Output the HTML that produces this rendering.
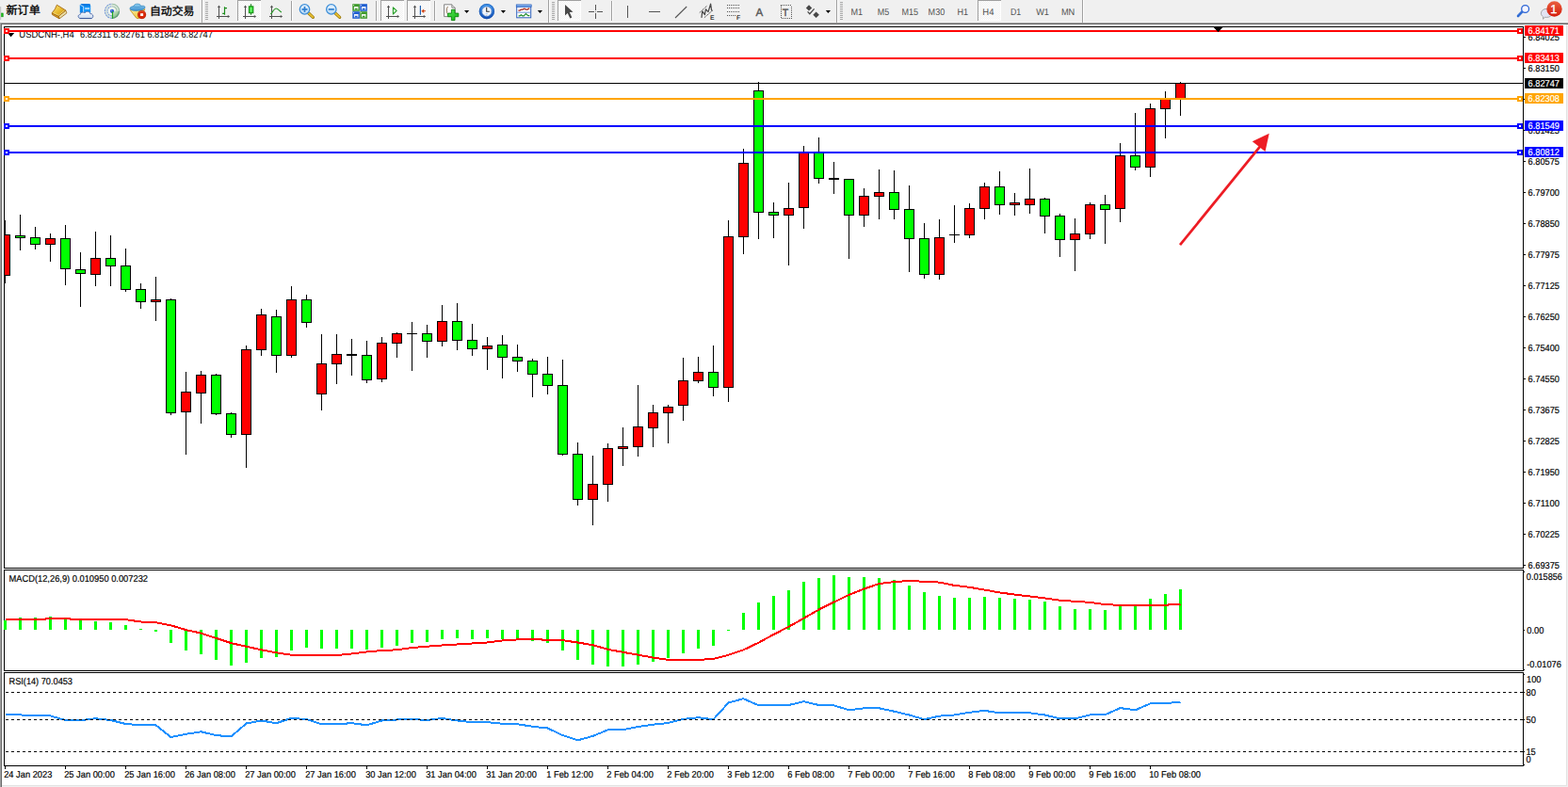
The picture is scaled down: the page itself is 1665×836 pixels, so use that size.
<!DOCTYPE html>
<html><head><meta charset="utf-8"><title>USDCNH H4</title>
<style>html,body{margin:0;padding:0;background:#f0f0f0;overflow:hidden}body{width:1665px;height:836px;position:relative;font-family:"Liberation Sans",sans-serif}</style>
</head><body>
<svg width="1665" height="836" viewBox="0 0 1665 836" style="position:absolute;left:0;top:0;text-rendering:geometricPrecision">
<rect x="0" y="0" width="1665" height="836" fill="#f0f0f0"/>
<g shape-rendering="crispEdges">
<rect x="0" y="23" width="1665" height="1" fill="#f5f5f5"/>
<rect x="0" y="24" width="1665" height="1" fill="#a0a0a0"/>
<rect x="0" y="25" width="1665" height="1" fill="#696969"/>
<rect x="0" y="25" width="1" height="811" fill="#a0a0a0"/>
<rect x="1" y="25" width="1" height="811" fill="#696969"/>
<rect x="2" y="26" width="1661" height="808" fill="#ffffff"/>
<rect x="2" y="834" width="1662" height="1" fill="#e3e3e3"/>
<rect x="1663" y="26" width="1" height="809" fill="#e3e3e3"/>
<rect x="4" y="28" width="1" height="576" fill="#000"/>
<rect x="1617" y="28" width="1" height="576" fill="#000"/>
<rect x="4" y="605" width="1" height="108" fill="#000"/>
<rect x="1617" y="605" width="1" height="108" fill="#000"/>
<rect x="4" y="714" width="1" height="100" fill="#000"/>
<rect x="1617" y="714" width="1" height="100" fill="#000"/>
<rect x="4" y="28" width="1614" height="1" fill="#000"/>
<rect x="4" y="603" width="1614" height="1" fill="#000"/>
<rect x="4" y="605" width="1614" height="1" fill="#000"/>
<rect x="4" y="712" width="1614" height="1" fill="#000"/>
<rect x="4" y="714" width="1614" height="1" fill="#000"/>
<rect x="4" y="813" width="1614" height="1" fill="#000"/>
</g>
<g shape-rendering="crispEdges">
<clipPath id="cm"><rect x="5" y="29" width="1612" height="574"/></clipPath>
<g clip-path="url(#cm)">
<rect x="5" y="234" width="1" height="67" fill="#000"/>
<rect x="0" y="249" width="11" height="44" fill="#000"/>
<rect x="1" y="250" width="9" height="42" fill="#ff0000"/>
<rect x="21" y="228" width="1" height="38" fill="#000"/>
<rect x="16" y="250" width="11" height="3" fill="#000"/>
<rect x="17" y="251" width="9" height="1" fill="#00ff00"/>
<rect x="37" y="241" width="1" height="24" fill="#000"/>
<rect x="32" y="252" width="11" height="8" fill="#000"/>
<rect x="33" y="253" width="9" height="6" fill="#00ff00"/>
<rect x="53" y="248" width="1" height="30" fill="#000"/>
<rect x="48" y="253" width="11" height="7" fill="#000"/>
<rect x="49" y="254" width="9" height="5" fill="#ff0000"/>
<rect x="69" y="239" width="1" height="64" fill="#000"/>
<rect x="64" y="253" width="11" height="33" fill="#000"/>
<rect x="65" y="254" width="9" height="31" fill="#00ff00"/>
<rect x="85" y="268" width="1" height="58" fill="#000"/>
<rect x="80" y="286" width="11" height="5" fill="#000"/>
<rect x="81" y="287" width="9" height="3" fill="#00ff00"/>
<rect x="101" y="246" width="1" height="58" fill="#000"/>
<rect x="96" y="274" width="11" height="18" fill="#000"/>
<rect x="97" y="275" width="9" height="16" fill="#ff0000"/>
<rect x="117" y="250" width="1" height="54" fill="#000"/>
<rect x="112" y="274" width="11" height="9" fill="#000"/>
<rect x="113" y="275" width="9" height="7" fill="#00ff00"/>
<rect x="133" y="264" width="1" height="46" fill="#000"/>
<rect x="128" y="282" width="11" height="26" fill="#000"/>
<rect x="129" y="283" width="9" height="24" fill="#00ff00"/>
<rect x="149" y="301" width="1" height="27" fill="#000"/>
<rect x="144" y="307" width="11" height="14" fill="#000"/>
<rect x="145" y="308" width="9" height="12" fill="#00ff00"/>
<rect x="165" y="294" width="1" height="47" fill="#000"/>
<rect x="160" y="318" width="11" height="3" fill="#000"/>
<rect x="161" y="319" width="9" height="1" fill="#ff0000"/>
<rect x="181" y="317" width="1" height="124" fill="#000"/>
<rect x="176" y="318" width="11" height="121" fill="#000"/>
<rect x="177" y="319" width="9" height="119" fill="#00ff00"/>
<rect x="197" y="395" width="1" height="88" fill="#000"/>
<rect x="192" y="416" width="11" height="22" fill="#000"/>
<rect x="193" y="417" width="9" height="20" fill="#ff0000"/>
<rect x="213" y="394" width="1" height="56" fill="#000"/>
<rect x="208" y="398" width="11" height="20" fill="#000"/>
<rect x="209" y="399" width="9" height="18" fill="#ff0000"/>
<rect x="229" y="397" width="1" height="44" fill="#000"/>
<rect x="224" y="398" width="11" height="42" fill="#000"/>
<rect x="225" y="399" width="9" height="40" fill="#00ff00"/>
<rect x="245" y="438" width="1" height="27" fill="#000"/>
<rect x="240" y="439" width="11" height="23" fill="#000"/>
<rect x="241" y="440" width="9" height="21" fill="#00ff00"/>
<rect x="261" y="367" width="1" height="130" fill="#000"/>
<rect x="256" y="371" width="11" height="91" fill="#000"/>
<rect x="257" y="372" width="9" height="89" fill="#ff0000"/>
<rect x="277" y="328" width="1" height="50" fill="#000"/>
<rect x="272" y="334" width="11" height="38" fill="#000"/>
<rect x="273" y="335" width="9" height="36" fill="#ff0000"/>
<rect x="293" y="329" width="1" height="67" fill="#000"/>
<rect x="288" y="336" width="11" height="42" fill="#000"/>
<rect x="289" y="337" width="9" height="40" fill="#00ff00"/>
<rect x="309" y="304" width="1" height="76" fill="#000"/>
<rect x="304" y="318" width="11" height="60" fill="#000"/>
<rect x="305" y="319" width="9" height="58" fill="#ff0000"/>
<rect x="325" y="313" width="1" height="35" fill="#000"/>
<rect x="320" y="318" width="11" height="25" fill="#000"/>
<rect x="321" y="319" width="9" height="23" fill="#00ff00"/>
<rect x="341" y="355" width="1" height="81" fill="#000"/>
<rect x="336" y="386" width="11" height="33" fill="#000"/>
<rect x="337" y="387" width="9" height="31" fill="#ff0000"/>
<rect x="357" y="355" width="1" height="53" fill="#000"/>
<rect x="352" y="376" width="11" height="11" fill="#000"/>
<rect x="353" y="377" width="9" height="9" fill="#ff0000"/>
<rect x="373" y="360" width="1" height="39" fill="#000"/>
<rect x="368" y="376" width="11" height="2" fill="#000"/>
<rect x="389" y="362" width="1" height="45" fill="#000"/>
<rect x="384" y="377" width="11" height="27" fill="#000"/>
<rect x="385" y="378" width="9" height="25" fill="#00ff00"/>
<rect x="405" y="358" width="1" height="48" fill="#000"/>
<rect x="400" y="364" width="11" height="39" fill="#000"/>
<rect x="401" y="365" width="9" height="37" fill="#ff0000"/>
<rect x="421" y="353" width="1" height="27" fill="#000"/>
<rect x="416" y="354" width="11" height="11" fill="#000"/>
<rect x="417" y="355" width="9" height="9" fill="#ff0000"/>
<rect x="437" y="342" width="1" height="52" fill="#000"/>
<rect x="432" y="354" width="11" height="1" fill="#000"/>
<rect x="453" y="345" width="1" height="35" fill="#000"/>
<rect x="448" y="354" width="11" height="9" fill="#000"/>
<rect x="449" y="355" width="9" height="7" fill="#00ff00"/>
<rect x="469" y="324" width="1" height="44" fill="#000"/>
<rect x="464" y="341" width="11" height="22" fill="#000"/>
<rect x="465" y="342" width="9" height="20" fill="#ff0000"/>
<rect x="485" y="322" width="1" height="50" fill="#000"/>
<rect x="480" y="341" width="11" height="21" fill="#000"/>
<rect x="481" y="342" width="9" height="19" fill="#00ff00"/>
<rect x="501" y="344" width="1" height="34" fill="#000"/>
<rect x="496" y="361" width="11" height="10" fill="#000"/>
<rect x="497" y="362" width="9" height="8" fill="#00ff00"/>
<rect x="517" y="358" width="1" height="35" fill="#000"/>
<rect x="512" y="367" width="11" height="4" fill="#000"/>
<rect x="513" y="368" width="9" height="2" fill="#ff0000"/>
<rect x="533" y="356" width="1" height="46" fill="#000"/>
<rect x="528" y="366" width="11" height="14" fill="#000"/>
<rect x="529" y="367" width="9" height="12" fill="#00ff00"/>
<rect x="549" y="366" width="1" height="29" fill="#000"/>
<rect x="544" y="379" width="11" height="5" fill="#000"/>
<rect x="545" y="380" width="9" height="3" fill="#00ff00"/>
<rect x="565" y="381" width="1" height="41" fill="#000"/>
<rect x="560" y="383" width="11" height="15" fill="#000"/>
<rect x="561" y="384" width="9" height="13" fill="#00ff00"/>
<rect x="581" y="379" width="1" height="40" fill="#000"/>
<rect x="576" y="397" width="11" height="13" fill="#000"/>
<rect x="577" y="398" width="9" height="11" fill="#00ff00"/>
<rect x="597" y="382" width="1" height="102" fill="#000"/>
<rect x="592" y="409" width="11" height="74" fill="#000"/>
<rect x="593" y="410" width="9" height="72" fill="#00ff00"/>
<rect x="613" y="470" width="1" height="67" fill="#000"/>
<rect x="608" y="482" width="11" height="49" fill="#000"/>
<rect x="609" y="483" width="9" height="47" fill="#00ff00"/>
<rect x="629" y="484" width="1" height="74" fill="#000"/>
<rect x="624" y="514" width="11" height="17" fill="#000"/>
<rect x="625" y="515" width="9" height="15" fill="#ff0000"/>
<rect x="645" y="471" width="1" height="62" fill="#000"/>
<rect x="640" y="476" width="11" height="39" fill="#000"/>
<rect x="641" y="477" width="9" height="37" fill="#ff0000"/>
<rect x="661" y="454" width="1" height="41" fill="#000"/>
<rect x="656" y="474" width="11" height="3" fill="#000"/>
<rect x="657" y="475" width="9" height="1" fill="#ff0000"/>
<rect x="677" y="409" width="1" height="76" fill="#000"/>
<rect x="672" y="453" width="11" height="22" fill="#000"/>
<rect x="673" y="454" width="9" height="20" fill="#ff0000"/>
<rect x="693" y="430" width="1" height="45" fill="#000"/>
<rect x="688" y="438" width="11" height="17" fill="#000"/>
<rect x="689" y="439" width="9" height="15" fill="#ff0000"/>
<rect x="709" y="430" width="1" height="41" fill="#000"/>
<rect x="704" y="432" width="11" height="7" fill="#000"/>
<rect x="705" y="433" width="9" height="5" fill="#ff0000"/>
<rect x="725" y="380" width="1" height="67" fill="#000"/>
<rect x="720" y="404" width="11" height="27" fill="#000"/>
<rect x="721" y="405" width="9" height="25" fill="#ff0000"/>
<rect x="741" y="379" width="1" height="28" fill="#000"/>
<rect x="736" y="395" width="11" height="10" fill="#000"/>
<rect x="737" y="396" width="9" height="8" fill="#ff0000"/>
<rect x="757" y="367" width="1" height="54" fill="#000"/>
<rect x="752" y="395" width="11" height="17" fill="#000"/>
<rect x="753" y="396" width="9" height="15" fill="#00ff00"/>
<rect x="773" y="234" width="1" height="193" fill="#000"/>
<rect x="768" y="251" width="11" height="161" fill="#000"/>
<rect x="769" y="252" width="9" height="159" fill="#ff0000"/>
<rect x="789" y="158" width="1" height="112" fill="#000"/>
<rect x="784" y="173" width="11" height="79" fill="#000"/>
<rect x="785" y="174" width="9" height="77" fill="#ff0000"/>
<rect x="805" y="87" width="1" height="167" fill="#000"/>
<rect x="800" y="96" width="11" height="130" fill="#000"/>
<rect x="801" y="97" width="9" height="128" fill="#00ff00"/>
<rect x="821" y="215" width="1" height="38" fill="#000"/>
<rect x="816" y="225" width="11" height="4" fill="#000"/>
<rect x="817" y="226" width="9" height="2" fill="#00ff00"/>
<rect x="837" y="194" width="1" height="88" fill="#000"/>
<rect x="832" y="221" width="11" height="8" fill="#000"/>
<rect x="833" y="222" width="9" height="6" fill="#ff0000"/>
<rect x="853" y="155" width="1" height="88" fill="#000"/>
<rect x="848" y="162" width="11" height="59" fill="#000"/>
<rect x="849" y="163" width="9" height="57" fill="#ff0000"/>
<rect x="869" y="146" width="1" height="49" fill="#000"/>
<rect x="864" y="162" width="11" height="28" fill="#000"/>
<rect x="865" y="163" width="9" height="26" fill="#00ff00"/>
<rect x="885" y="172" width="1" height="34" fill="#000"/>
<rect x="880" y="189" width="11" height="2" fill="#000"/>
<rect x="901" y="190" width="1" height="85" fill="#000"/>
<rect x="896" y="190" width="11" height="39" fill="#000"/>
<rect x="897" y="191" width="9" height="37" fill="#00ff00"/>
<rect x="917" y="200" width="1" height="41" fill="#000"/>
<rect x="912" y="208" width="11" height="21" fill="#000"/>
<rect x="913" y="209" width="9" height="19" fill="#ff0000"/>
<rect x="933" y="180" width="1" height="53" fill="#000"/>
<rect x="928" y="204" width="11" height="5" fill="#000"/>
<rect x="929" y="205" width="9" height="3" fill="#ff0000"/>
<rect x="949" y="181" width="1" height="52" fill="#000"/>
<rect x="944" y="204" width="11" height="19" fill="#000"/>
<rect x="945" y="205" width="9" height="17" fill="#00ff00"/>
<rect x="965" y="197" width="1" height="92" fill="#000"/>
<rect x="960" y="222" width="11" height="32" fill="#000"/>
<rect x="961" y="223" width="9" height="30" fill="#00ff00"/>
<rect x="981" y="237" width="1" height="59" fill="#000"/>
<rect x="976" y="253" width="11" height="39" fill="#000"/>
<rect x="977" y="254" width="9" height="37" fill="#00ff00"/>
<rect x="997" y="233" width="1" height="64" fill="#000"/>
<rect x="992" y="252" width="11" height="40" fill="#000"/>
<rect x="993" y="253" width="9" height="38" fill="#ff0000"/>
<rect x="1013" y="218" width="1" height="40" fill="#000"/>
<rect x="1008" y="249" width="11" height="1" fill="#000"/>
<rect x="1029" y="216" width="1" height="37" fill="#000"/>
<rect x="1024" y="221" width="11" height="29" fill="#000"/>
<rect x="1025" y="222" width="9" height="27" fill="#ff0000"/>
<rect x="1045" y="194" width="1" height="39" fill="#000"/>
<rect x="1040" y="198" width="11" height="24" fill="#000"/>
<rect x="1041" y="199" width="9" height="22" fill="#ff0000"/>
<rect x="1061" y="182" width="1" height="46" fill="#000"/>
<rect x="1056" y="198" width="11" height="20" fill="#000"/>
<rect x="1057" y="199" width="9" height="18" fill="#00ff00"/>
<rect x="1077" y="205" width="1" height="24" fill="#000"/>
<rect x="1072" y="215" width="11" height="3" fill="#000"/>
<rect x="1073" y="216" width="9" height="1" fill="#ff0000"/>
<rect x="1093" y="179" width="1" height="48" fill="#000"/>
<rect x="1088" y="211" width="11" height="7" fill="#000"/>
<rect x="1089" y="212" width="9" height="5" fill="#ff0000"/>
<rect x="1109" y="210" width="1" height="38" fill="#000"/>
<rect x="1104" y="211" width="11" height="19" fill="#000"/>
<rect x="1105" y="212" width="9" height="17" fill="#00ff00"/>
<rect x="1125" y="227" width="1" height="46" fill="#000"/>
<rect x="1120" y="229" width="11" height="26" fill="#000"/>
<rect x="1121" y="230" width="9" height="24" fill="#00ff00"/>
<rect x="1141" y="232" width="1" height="56" fill="#000"/>
<rect x="1136" y="248" width="11" height="7" fill="#000"/>
<rect x="1137" y="249" width="9" height="5" fill="#ff0000"/>
<rect x="1157" y="215" width="1" height="39" fill="#000"/>
<rect x="1152" y="217" width="11" height="32" fill="#000"/>
<rect x="1153" y="218" width="9" height="30" fill="#ff0000"/>
<rect x="1173" y="207" width="1" height="52" fill="#000"/>
<rect x="1168" y="217" width="11" height="6" fill="#000"/>
<rect x="1169" y="218" width="9" height="4" fill="#00ff00"/>
<rect x="1189" y="152" width="1" height="84" fill="#000"/>
<rect x="1184" y="165" width="11" height="57" fill="#000"/>
<rect x="1185" y="166" width="9" height="55" fill="#ff0000"/>
<rect x="1205" y="120" width="1" height="61" fill="#000"/>
<rect x="1200" y="165" width="11" height="13" fill="#000"/>
<rect x="1201" y="166" width="9" height="11" fill="#00ff00"/>
<rect x="1221" y="110" width="1" height="78" fill="#000"/>
<rect x="1216" y="115" width="11" height="63" fill="#000"/>
<rect x="1217" y="116" width="9" height="61" fill="#ff0000"/>
<rect x="1237" y="97" width="1" height="50" fill="#000"/>
<rect x="1232" y="105" width="11" height="11" fill="#000"/>
<rect x="1233" y="106" width="9" height="9" fill="#ff0000"/>
<rect x="1253" y="87" width="1" height="36" fill="#000"/>
<rect x="1248" y="88" width="11" height="17" fill="#000"/>
<rect x="1249" y="89" width="9" height="15" fill="#ff0000"/>
</g>
</g>
<path d="M8,35 L15.2,35 L11.6,39.2 Z" fill="#000"/>
<text x="20.3" y="40" font-family="Liberation Sans, sans-serif" font-size="10" fill="#000" textLength="58.4" lengthAdjust="spacingAndGlyphs">USDCNH-,H4</text>
<text x="85.0" y="40" font-family="Liberation Sans, sans-serif" font-size="10" fill="#000" textLength="140.9" lengthAdjust="spacingAndGlyphs">6.82311 6.82761 6.81842 6.82747</text>
<rect x="5" y="32" width="1612" height="2" fill="#ff0000"/>
<rect x="4" y="30" width="6" height="6" fill="#ff0000"/><rect x="6" y="32" width="2" height="2" fill="#fff"/>
<rect x="1611" y="30" width="6" height="6" fill="#ff0000"/><rect x="1613" y="32" width="2" height="2" fill="#fff"/>
<rect x="5" y="61" width="1612" height="2" fill="#ff0000"/>
<rect x="4" y="59" width="6" height="6" fill="#ff0000"/><rect x="6" y="61" width="2" height="2" fill="#fff"/>
<rect x="1611" y="59" width="6" height="6" fill="#ff0000"/><rect x="1613" y="61" width="2" height="2" fill="#fff"/>
<rect x="5" y="88" width="1612" height="1" fill="#000000"/>
<rect x="5" y="104" width="1612" height="2" fill="#ffa500"/>
<rect x="4" y="102" width="6" height="6" fill="#ffa500"/><rect x="6" y="104" width="2" height="2" fill="#fff"/>
<rect x="1611" y="102" width="6" height="6" fill="#ffa500"/><rect x="1613" y="104" width="2" height="2" fill="#fff"/>
<rect x="5" y="133" width="1612" height="2" fill="#0000ff"/>
<rect x="4" y="131" width="6" height="6" fill="#0000ff"/><rect x="6" y="133" width="2" height="2" fill="#fff"/>
<rect x="1611" y="131" width="6" height="6" fill="#0000ff"/><rect x="1613" y="133" width="2" height="2" fill="#fff"/>
<rect x="5" y="161" width="1612" height="2" fill="#0000ff"/>
<rect x="4" y="159" width="6" height="6" fill="#0000ff"/><rect x="6" y="161" width="2" height="2" fill="#fff"/>
<rect x="1611" y="159" width="6" height="6" fill="#0000ff"/><rect x="1613" y="161" width="2" height="2" fill="#fff"/>
</g>
<g fill="#ed1c24" stroke="none"><path d="M1251.95,259.35 L1254.05,261.05 L1339.65,155.65 L1337.55,153.95 Z"/><path d="M1347.7,141.8 L1329.8,150.2 L1343.5,161 Z"/></g>
<g fill="#000" shape-rendering="crispEdges"><rect x="1289" y="29" width="9" height="1"/><rect x="1290" y="30" width="7" height="1"/><rect x="1291" y="31" width="5" height="1"/><rect x="1292" y="32" width="3" height="1"/><rect x="1293" y="33" width="1" height="1"/></g>
<rect x="1618" y="39.0" width="2" height="1" fill="#000" shape-rendering="crispEdges"/>
<text x="1622.6" y="43.0" font-family="Liberation Sans, sans-serif" font-size="10.0" fill="#000" stroke="#000" stroke-width="0.18" textLength="33.4" lengthAdjust="spacingAndGlyphs">6.84025</text>
<rect x="1618" y="72.0" width="2" height="1" fill="#000" shape-rendering="crispEdges"/>
<text x="1622.6" y="76.0" font-family="Liberation Sans, sans-serif" font-size="10.0" fill="#000" stroke="#000" stroke-width="0.18" textLength="33.4" lengthAdjust="spacingAndGlyphs">6.83150</text>
<rect x="1618" y="105.0" width="2" height="1" fill="#000" shape-rendering="crispEdges"/>
<text x="1622.6" y="109.0" font-family="Liberation Sans, sans-serif" font-size="10.0" fill="#000" stroke="#000" stroke-width="0.18" textLength="33.4" lengthAdjust="spacingAndGlyphs">6.82275</text>
<rect x="1618" y="138.0" width="2" height="1" fill="#000" shape-rendering="crispEdges"/>
<text x="1622.6" y="142.0" font-family="Liberation Sans, sans-serif" font-size="10.0" fill="#000" stroke="#000" stroke-width="0.18" textLength="33.4" lengthAdjust="spacingAndGlyphs">6.81425</text>
<rect x="1618" y="171.0" width="2" height="1" fill="#000" shape-rendering="crispEdges"/>
<text x="1622.6" y="175.0" font-family="Liberation Sans, sans-serif" font-size="10.0" fill="#000" stroke="#000" stroke-width="0.18" textLength="33.4" lengthAdjust="spacingAndGlyphs">6.80575</text>
<rect x="1618" y="204.0" width="2" height="1" fill="#000" shape-rendering="crispEdges"/>
<text x="1622.6" y="208.0" font-family="Liberation Sans, sans-serif" font-size="10.0" fill="#000" stroke="#000" stroke-width="0.18" textLength="33.4" lengthAdjust="spacingAndGlyphs">6.79700</text>
<rect x="1618" y="237.0" width="2" height="1" fill="#000" shape-rendering="crispEdges"/>
<text x="1622.6" y="241.0" font-family="Liberation Sans, sans-serif" font-size="10.0" fill="#000" stroke="#000" stroke-width="0.18" textLength="33.4" lengthAdjust="spacingAndGlyphs">6.78850</text>
<rect x="1618" y="270.0" width="2" height="1" fill="#000" shape-rendering="crispEdges"/>
<text x="1622.6" y="274.0" font-family="Liberation Sans, sans-serif" font-size="10.0" fill="#000" stroke="#000" stroke-width="0.18" textLength="33.4" lengthAdjust="spacingAndGlyphs">6.77975</text>
<rect x="1618" y="303.0" width="2" height="1" fill="#000" shape-rendering="crispEdges"/>
<text x="1622.6" y="307.0" font-family="Liberation Sans, sans-serif" font-size="10.0" fill="#000" stroke="#000" stroke-width="0.18" textLength="33.4" lengthAdjust="spacingAndGlyphs">6.77125</text>
<rect x="1618" y="336.0" width="2" height="1" fill="#000" shape-rendering="crispEdges"/>
<text x="1622.6" y="340.0" font-family="Liberation Sans, sans-serif" font-size="10.0" fill="#000" stroke="#000" stroke-width="0.18" textLength="33.4" lengthAdjust="spacingAndGlyphs">6.76250</text>
<rect x="1618" y="369.0" width="2" height="1" fill="#000" shape-rendering="crispEdges"/>
<text x="1622.6" y="373.0" font-family="Liberation Sans, sans-serif" font-size="10.0" fill="#000" stroke="#000" stroke-width="0.18" textLength="33.4" lengthAdjust="spacingAndGlyphs">6.75400</text>
<rect x="1618" y="402.0" width="2" height="1" fill="#000" shape-rendering="crispEdges"/>
<text x="1622.6" y="406.0" font-family="Liberation Sans, sans-serif" font-size="10.0" fill="#000" stroke="#000" stroke-width="0.18" textLength="33.4" lengthAdjust="spacingAndGlyphs">6.74550</text>
<rect x="1618" y="435.0" width="2" height="1" fill="#000" shape-rendering="crispEdges"/>
<text x="1622.6" y="439.0" font-family="Liberation Sans, sans-serif" font-size="10.0" fill="#000" stroke="#000" stroke-width="0.18" textLength="33.4" lengthAdjust="spacingAndGlyphs">6.73675</text>
<rect x="1618" y="468.0" width="2" height="1" fill="#000" shape-rendering="crispEdges"/>
<text x="1622.6" y="472.0" font-family="Liberation Sans, sans-serif" font-size="10.0" fill="#000" stroke="#000" stroke-width="0.18" textLength="33.4" lengthAdjust="spacingAndGlyphs">6.72825</text>
<rect x="1618" y="501.0" width="2" height="1" fill="#000" shape-rendering="crispEdges"/>
<text x="1622.6" y="505.0" font-family="Liberation Sans, sans-serif" font-size="10.0" fill="#000" stroke="#000" stroke-width="0.18" textLength="33.4" lengthAdjust="spacingAndGlyphs">6.71950</text>
<rect x="1618" y="534.0" width="2" height="1" fill="#000" shape-rendering="crispEdges"/>
<text x="1622.6" y="538.0" font-family="Liberation Sans, sans-serif" font-size="10.0" fill="#000" stroke="#000" stroke-width="0.18" textLength="33.4" lengthAdjust="spacingAndGlyphs">6.71100</text>
<rect x="1618" y="567.0" width="2" height="1" fill="#000" shape-rendering="crispEdges"/>
<text x="1622.6" y="571.0" font-family="Liberation Sans, sans-serif" font-size="10.0" fill="#000" stroke="#000" stroke-width="0.18" textLength="33.4" lengthAdjust="spacingAndGlyphs">6.70225</text>
<rect x="1618" y="600.0" width="2" height="1" fill="#000" shape-rendering="crispEdges"/>
<text x="1622.6" y="604.0" font-family="Liberation Sans, sans-serif" font-size="10.0" fill="#000" stroke="#000" stroke-width="0.18" textLength="33.4" lengthAdjust="spacingAndGlyphs">6.69375</text>
<rect x="1619" y="27" width="41" height="11" fill="#ff0000" shape-rendering="crispEdges"/>
<text x="1622.6" y="36" font-family="Liberation Sans, sans-serif" font-size="10.0" fill="#fff" stroke="#fff" stroke-width="0.18" textLength="33.4" lengthAdjust="spacingAndGlyphs">6.84171</text>
<rect x="1619" y="56" width="41" height="11" fill="#ff0000" shape-rendering="crispEdges"/>
<text x="1622.6" y="65" font-family="Liberation Sans, sans-serif" font-size="10.0" fill="#fff" stroke="#fff" stroke-width="0.18" textLength="33.4" lengthAdjust="spacingAndGlyphs">6.83413</text>
<rect x="1619" y="83" width="41" height="11" fill="#000000" shape-rendering="crispEdges"/>
<text x="1622.6" y="92" font-family="Liberation Sans, sans-serif" font-size="10.0" fill="#fff" stroke="#fff" stroke-width="0.18" textLength="33.4" lengthAdjust="spacingAndGlyphs">6.82747</text>
<rect x="1619" y="99" width="41" height="11" fill="#ffa500" shape-rendering="crispEdges"/>
<text x="1622.6" y="108" font-family="Liberation Sans, sans-serif" font-size="10.0" fill="#fff" stroke="#fff" stroke-width="0.18" textLength="33.4" lengthAdjust="spacingAndGlyphs">6.82308</text>
<rect x="1619" y="128" width="41" height="11" fill="#0000ff" shape-rendering="crispEdges"/>
<text x="1622.6" y="137" font-family="Liberation Sans, sans-serif" font-size="10.0" fill="#fff" stroke="#fff" stroke-width="0.18" textLength="33.4" lengthAdjust="spacingAndGlyphs">6.81549</text>
<rect x="1619" y="156" width="41" height="11" fill="#0000ff" shape-rendering="crispEdges"/>
<text x="1622.6" y="165" font-family="Liberation Sans, sans-serif" font-size="10.0" fill="#fff" stroke="#fff" stroke-width="0.18" textLength="33.4" lengthAdjust="spacingAndGlyphs">6.80812</text>
<g shape-rendering="crispEdges">
<rect x="4" y="659" width="3" height="10" fill="#00ff00"/>
<rect x="20" y="656" width="3" height="13" fill="#00ff00"/>
<rect x="36" y="656" width="3" height="13" fill="#00ff00"/>
<rect x="52" y="655" width="3" height="14" fill="#00ff00"/>
<rect x="68" y="657" width="3" height="12" fill="#00ff00"/>
<rect x="84" y="658" width="3" height="11" fill="#00ff00"/>
<rect x="100" y="660" width="3" height="9" fill="#00ff00"/>
<rect x="116" y="661" width="3" height="8" fill="#00ff00"/>
<rect x="132" y="664" width="3" height="5" fill="#00ff00"/>
<rect x="148" y="668" width="3" height="1" fill="#00ff00"/>
<rect x="164" y="669" width="3" height="2" fill="#00ff00"/>
<rect x="180" y="669" width="3" height="14" fill="#00ff00"/>
<rect x="196" y="669" width="3" height="22" fill="#00ff00"/>
<rect x="212" y="669" width="3" height="26" fill="#00ff00"/>
<rect x="228" y="669" width="3" height="32" fill="#00ff00"/>
<rect x="244" y="669" width="3" height="38" fill="#00ff00"/>
<rect x="260" y="669" width="3" height="35" fill="#00ff00"/>
<rect x="276" y="669" width="3" height="30" fill="#00ff00"/>
<rect x="292" y="669" width="3" height="29" fill="#00ff00"/>
<rect x="308" y="669" width="3" height="22" fill="#00ff00"/>
<rect x="324" y="669" width="3" height="19" fill="#00ff00"/>
<rect x="340" y="669" width="3" height="20" fill="#00ff00"/>
<rect x="356" y="669" width="3" height="20" fill="#00ff00"/>
<rect x="372" y="669" width="3" height="20" fill="#00ff00"/>
<rect x="388" y="669" width="3" height="21" fill="#00ff00"/>
<rect x="404" y="669" width="3" height="19" fill="#00ff00"/>
<rect x="420" y="669" width="3" height="17" fill="#00ff00"/>
<rect x="436" y="669" width="3" height="14" fill="#00ff00"/>
<rect x="452" y="669" width="3" height="13" fill="#00ff00"/>
<rect x="468" y="669" width="3" height="10" fill="#00ff00"/>
<rect x="484" y="669" width="3" height="9" fill="#00ff00"/>
<rect x="500" y="669" width="3" height="10" fill="#00ff00"/>
<rect x="516" y="669" width="3" height="9" fill="#00ff00"/>
<rect x="532" y="669" width="3" height="10" fill="#00ff00"/>
<rect x="548" y="669" width="3" height="10" fill="#00ff00"/>
<rect x="564" y="669" width="3" height="12" fill="#00ff00"/>
<rect x="580" y="669" width="3" height="14" fill="#00ff00"/>
<rect x="596" y="669" width="3" height="22" fill="#00ff00"/>
<rect x="612" y="669" width="3" height="32" fill="#00ff00"/>
<rect x="628" y="669" width="3" height="37" fill="#00ff00"/>
<rect x="644" y="669" width="3" height="39" fill="#00ff00"/>
<rect x="660" y="669" width="3" height="39" fill="#00ff00"/>
<rect x="676" y="669" width="3" height="37" fill="#00ff00"/>
<rect x="692" y="669" width="3" height="34" fill="#00ff00"/>
<rect x="708" y="669" width="3" height="30" fill="#00ff00"/>
<rect x="724" y="669" width="3" height="25" fill="#00ff00"/>
<rect x="740" y="669" width="3" height="20" fill="#00ff00"/>
<rect x="756" y="669" width="3" height="17" fill="#00ff00"/>
<rect x="772" y="669" width="3" height="1" fill="#00ff00"/>
<rect x="788" y="651" width="3" height="18" fill="#00ff00"/>
<rect x="804" y="640" width="3" height="29" fill="#00ff00"/>
<rect x="820" y="633" width="3" height="36" fill="#00ff00"/>
<rect x="836" y="627" width="3" height="42" fill="#00ff00"/>
<rect x="852" y="618" width="3" height="51" fill="#00ff00"/>
<rect x="868" y="614" width="3" height="55" fill="#00ff00"/>
<rect x="884" y="611" width="3" height="58" fill="#00ff00"/>
<rect x="900" y="613" width="3" height="56" fill="#00ff00"/>
<rect x="916" y="613" width="3" height="56" fill="#00ff00"/>
<rect x="932" y="614" width="3" height="55" fill="#00ff00"/>
<rect x="948" y="616" width="3" height="53" fill="#00ff00"/>
<rect x="964" y="622" width="3" height="47" fill="#00ff00"/>
<rect x="980" y="629" width="3" height="40" fill="#00ff00"/>
<rect x="996" y="633" width="3" height="36" fill="#00ff00"/>
<rect x="1012" y="635" width="3" height="34" fill="#00ff00"/>
<rect x="1028" y="635" width="3" height="34" fill="#00ff00"/>
<rect x="1044" y="634" width="3" height="35" fill="#00ff00"/>
<rect x="1060" y="635" width="3" height="34" fill="#00ff00"/>
<rect x="1076" y="636" width="3" height="33" fill="#00ff00"/>
<rect x="1092" y="637" width="3" height="32" fill="#00ff00"/>
<rect x="1108" y="639" width="3" height="30" fill="#00ff00"/>
<rect x="1124" y="644" width="3" height="25" fill="#00ff00"/>
<rect x="1140" y="647" width="3" height="22" fill="#00ff00"/>
<rect x="1156" y="647" width="3" height="22" fill="#00ff00"/>
<rect x="1172" y="648" width="3" height="21" fill="#00ff00"/>
<rect x="1188" y="643" width="3" height="26" fill="#00ff00"/>
<rect x="1204" y="643" width="3" height="26" fill="#00ff00"/>
<rect x="1220" y="636" width="3" height="33" fill="#00ff00"/>
<rect x="1236" y="631" width="3" height="38" fill="#00ff00"/>
<rect x="1252" y="626" width="3" height="43" fill="#00ff00"/>
</g>
<clipPath id="c2"><rect x="5" y="606" width="1612" height="106"/></clipPath>
<polyline clip-path="url(#c2)" points="5.5,658.2 21.5,658.2 37.5,658.2 53.5,657.2 69.5,657.2 85.5,658.2 101.5,658.2 117.5,658.2 133.5,658.2 149.5,660.5 165.5,661.2 181.5,664.3 197.5,669.1 213.5,672.6 229.5,677.9 245.5,683.2 261.5,686.7 277.5,690.3 293.5,693.3 309.5,695.8 325.5,696.1 341.5,696.1 357.5,696.1 373.5,694.5 389.5,692.5 405.5,691.0 421.5,690.3 437.5,688.0 453.5,686.7 469.5,685.5 485.5,684.5 501.5,683.5 517.5,682.5 533.5,680.4 549.5,679.4 565.5,679.2 581.5,679.7 597.5,680.2 613.5,682.5 629.5,685.2 645.5,689.8 661.5,692.8 677.5,695.6 693.5,698.6 709.5,700.9 725.5,701.1 741.5,700.9 757.5,699.9 773.5,695.8 789.5,690.3 805.5,682.7 821.5,674.0 837.5,665.8 853.5,656.7 869.5,647.6 885.5,639.6 901.5,631.9 917.5,625.5 933.5,620.1 949.5,618.1 965.5,617.0 981.5,617.8 997.5,618.6 1013.5,621.9 1029.5,623.8 1045.5,626.6 1061.5,629.4 1077.5,631.6 1093.5,633.5 1109.5,635.4 1125.5,637.7 1141.5,638.8 1157.5,639.9 1173.5,642.1 1189.5,642.9 1205.5,643.2 1221.5,643.2 1237.5,642.6 1253.5,642.1" fill="none" stroke="#ff0000" stroke-width="2" stroke-linejoin="round" shape-rendering="crispEdges"/>
<text x="9.5" y="618" font-family="Liberation Sans, sans-serif" font-size="10.0" fill="#000" stroke="#000" stroke-width="0.18" textLength="147.5" lengthAdjust="spacingAndGlyphs">MACD(12,26,9) 0.010950 0.007232</text>
<text x="1620.8" y="616" font-family="Liberation Sans, sans-serif" font-size="10.0" fill="#000" stroke="#000" stroke-width="0.18" textLength="38.1" lengthAdjust="spacingAndGlyphs">0.015856</text>
<text x="1621.3" y="673" font-family="Liberation Sans, sans-serif" font-size="10.0" fill="#000" stroke="#000" stroke-width="0.18" textLength="18.1" lengthAdjust="spacingAndGlyphs">0.00</text>
<text x="1621.2" y="709" font-family="Liberation Sans, sans-serif" font-size="10.0" fill="#000" stroke="#000" stroke-width="0.18" textLength="36.71" lengthAdjust="spacingAndGlyphs">-0.01076</text>
<g shape-rendering="crispEdges" fill="#000"><rect x="1618" y="607" width="1" height="1"/><rect x="1618" y="669" width="1" height="1"/><rect x="1618" y="711" width="1" height="1"/><rect x="1618" y="716" width="1" height="1"/><rect x="1618" y="735" width="1" height="1"/><rect x="1618" y="764" width="1" height="1"/><rect x="1618" y="798" width="1" height="1"/><rect x="1618" y="812" width="1" height="1"/></g>
<clipPath id="c3"><rect x="5" y="715" width="1612" height="98"/></clipPath>
<polyline clip-path="url(#c3)" points="5.5,759.4 21.5,759.4 37.5,760.4 53.5,760.4 69.5,765.0 85.5,765.2 101.5,763.2 117.5,765.0 133.5,769.0 149.5,770.3 165.5,770.3 181.5,783.1 197.5,779.8 213.5,777.3 229.5,781.1 245.5,782.4 261.5,768.5 277.5,765.5 293.5,768.2 309.5,762.9 325.5,764.1 341.5,769.2 357.5,769.2 373.5,768.2 389.5,770.3 405.5,765.5 421.5,764.5 437.5,764.0 453.5,765.0 469.5,762.9 485.5,765.5 501.5,767.2 517.5,767.2 533.5,768.7 549.5,769.2 565.5,771.8 581.5,773.5 597.5,781.1 613.5,786.4 629.5,781.9 645.5,775.3 661.5,775.3 677.5,772.0 693.5,769.7 709.5,768.0 725.5,763.9 741.5,762.2 757.5,764.2 773.5,746.5 789.5,742.2 805.5,749.3 821.5,749.3 837.5,749.0 853.5,745.2 869.5,749.0 885.5,749.3 901.5,754.3 917.5,752.3 933.5,752.3 949.5,755.7 965.5,759.5 981.5,764.2 997.5,760.6 1013.5,759.5 1029.5,756.8 1045.5,754.9 1061.5,757.3 1077.5,757.3 1093.5,757.3 1109.5,759.5 1125.5,763.4 1141.5,763.4 1157.5,759.3 1173.5,759.3 1189.5,752.1 1205.5,754.3 1221.5,747.4 1237.5,746.9 1253.5,745.9" fill="none" stroke="#1e90ff" stroke-width="2" stroke-linejoin="round" shape-rendering="crispEdges"/>
<line x1="6" y1="735.5" x2="1617" y2="735.5" stroke="#000" stroke-width="1" stroke-dasharray="3 3" shape-rendering="crispEdges"/>
<line x1="6" y1="764.5" x2="1617" y2="764.5" stroke="#000" stroke-width="1" stroke-dasharray="3 3" shape-rendering="crispEdges"/>
<line x1="6" y1="798.5" x2="1617" y2="798.5" stroke="#000" stroke-width="1" stroke-dasharray="3 3" shape-rendering="crispEdges"/>
<text x="9.5" y="727" font-family="Liberation Sans, sans-serif" font-size="10.0" fill="#000" stroke="#000" stroke-width="0.18" textLength="67.5" lengthAdjust="spacingAndGlyphs">RSI(14) 70.0453</text>
<text x="1621.0" y="725" font-family="Liberation Sans, sans-serif" font-size="10.0" fill="#000" stroke="#000" stroke-width="0.18" textLength="15.52" lengthAdjust="spacingAndGlyphs">100</text>
<text x="1620.6" y="739" font-family="Liberation Sans, sans-serif" font-size="10.0" fill="#000" stroke="#000" stroke-width="0.18" textLength="10.34" lengthAdjust="spacingAndGlyphs">80</text>
<text x="1620.6" y="768" font-family="Liberation Sans, sans-serif" font-size="10.0" fill="#000" stroke="#000" stroke-width="0.18" textLength="10.34" lengthAdjust="spacingAndGlyphs">50</text>
<text x="1620.4" y="802" font-family="Liberation Sans, sans-serif" font-size="10.0" fill="#000" stroke="#000" stroke-width="0.18" textLength="10.34" lengthAdjust="spacingAndGlyphs">15</text>
<text x="1620.6" y="810" font-family="Liberation Sans, sans-serif" font-size="10.0" fill="#000" stroke="#000" stroke-width="0.18" textLength="5.17" lengthAdjust="spacingAndGlyphs">0</text>
<rect x="5" y="814" width="1" height="3" fill="#000" shape-rendering="crispEdges"/>
<text x="4.2" y="826" font-family="Liberation Sans, sans-serif" font-size="10.0" fill="#000" stroke="#000" stroke-width="0.18" textLength="51.2" lengthAdjust="spacingAndGlyphs">24 Jan 2023</text>
<rect x="69" y="814" width="1" height="3" fill="#000" shape-rendering="crispEdges"/>
<text x="68.2" y="826" font-family="Liberation Sans, sans-serif" font-size="10.0" fill="#000" stroke="#000" stroke-width="0.18" textLength="53.78" lengthAdjust="spacingAndGlyphs">25 Jan 00:00</text>
<rect x="133" y="814" width="1" height="3" fill="#000" shape-rendering="crispEdges"/>
<text x="132.2" y="826" font-family="Liberation Sans, sans-serif" font-size="10.0" fill="#000" stroke="#000" stroke-width="0.18" textLength="53.78" lengthAdjust="spacingAndGlyphs">25 Jan 16:00</text>
<rect x="197" y="814" width="1" height="3" fill="#000" shape-rendering="crispEdges"/>
<text x="196.2" y="826" font-family="Liberation Sans, sans-serif" font-size="10.0" fill="#000" stroke="#000" stroke-width="0.18" textLength="53.78" lengthAdjust="spacingAndGlyphs">26 Jan 08:00</text>
<rect x="261" y="814" width="1" height="3" fill="#000" shape-rendering="crispEdges"/>
<text x="260.2" y="826" font-family="Liberation Sans, sans-serif" font-size="10.0" fill="#000" stroke="#000" stroke-width="0.18" textLength="53.78" lengthAdjust="spacingAndGlyphs">27 Jan 00:00</text>
<rect x="325" y="814" width="1" height="3" fill="#000" shape-rendering="crispEdges"/>
<text x="324.2" y="826" font-family="Liberation Sans, sans-serif" font-size="10.0" fill="#000" stroke="#000" stroke-width="0.18" textLength="53.78" lengthAdjust="spacingAndGlyphs">27 Jan 16:00</text>
<rect x="389" y="814" width="1" height="3" fill="#000" shape-rendering="crispEdges"/>
<text x="388.2" y="826" font-family="Liberation Sans, sans-serif" font-size="10.0" fill="#000" stroke="#000" stroke-width="0.18" textLength="53.78" lengthAdjust="spacingAndGlyphs">30 Jan 12:00</text>
<rect x="453" y="814" width="1" height="3" fill="#000" shape-rendering="crispEdges"/>
<text x="452.2" y="826" font-family="Liberation Sans, sans-serif" font-size="10.0" fill="#000" stroke="#000" stroke-width="0.18" textLength="53.78" lengthAdjust="spacingAndGlyphs">31 Jan 04:00</text>
<rect x="517" y="814" width="1" height="3" fill="#000" shape-rendering="crispEdges"/>
<text x="516.2" y="826" font-family="Liberation Sans, sans-serif" font-size="10.0" fill="#000" stroke="#000" stroke-width="0.18" textLength="53.78" lengthAdjust="spacingAndGlyphs">31 Jan 20:00</text>
<rect x="581" y="814" width="1" height="3" fill="#000" shape-rendering="crispEdges"/>
<text x="580.2" y="826" font-family="Liberation Sans, sans-serif" font-size="10.0" fill="#000" stroke="#000" stroke-width="0.18" textLength="49.64" lengthAdjust="spacingAndGlyphs">1 Feb 12:00</text>
<rect x="645" y="814" width="1" height="3" fill="#000" shape-rendering="crispEdges"/>
<text x="644.2" y="826" font-family="Liberation Sans, sans-serif" font-size="10.0" fill="#000" stroke="#000" stroke-width="0.18" textLength="49.64" lengthAdjust="spacingAndGlyphs">2 Feb 04:00</text>
<rect x="709" y="814" width="1" height="3" fill="#000" shape-rendering="crispEdges"/>
<text x="708.2" y="826" font-family="Liberation Sans, sans-serif" font-size="10.0" fill="#000" stroke="#000" stroke-width="0.18" textLength="49.64" lengthAdjust="spacingAndGlyphs">2 Feb 20:00</text>
<rect x="773" y="814" width="1" height="3" fill="#000" shape-rendering="crispEdges"/>
<text x="772.2" y="826" font-family="Liberation Sans, sans-serif" font-size="10.0" fill="#000" stroke="#000" stroke-width="0.18" textLength="49.64" lengthAdjust="spacingAndGlyphs">3 Feb 12:00</text>
<rect x="837" y="814" width="1" height="3" fill="#000" shape-rendering="crispEdges"/>
<text x="836.2" y="826" font-family="Liberation Sans, sans-serif" font-size="10.0" fill="#000" stroke="#000" stroke-width="0.18" textLength="49.64" lengthAdjust="spacingAndGlyphs">6 Feb 08:00</text>
<rect x="901" y="814" width="1" height="3" fill="#000" shape-rendering="crispEdges"/>
<text x="900.2" y="826" font-family="Liberation Sans, sans-serif" font-size="10.0" fill="#000" stroke="#000" stroke-width="0.18" textLength="49.64" lengthAdjust="spacingAndGlyphs">7 Feb 00:00</text>
<rect x="965" y="814" width="1" height="3" fill="#000" shape-rendering="crispEdges"/>
<text x="964.2" y="826" font-family="Liberation Sans, sans-serif" font-size="10.0" fill="#000" stroke="#000" stroke-width="0.18" textLength="49.64" lengthAdjust="spacingAndGlyphs">7 Feb 16:00</text>
<rect x="1029" y="814" width="1" height="3" fill="#000" shape-rendering="crispEdges"/>
<text x="1028.2" y="826" font-family="Liberation Sans, sans-serif" font-size="10.0" fill="#000" stroke="#000" stroke-width="0.18" textLength="49.64" lengthAdjust="spacingAndGlyphs">8 Feb 08:00</text>
<rect x="1093" y="814" width="1" height="3" fill="#000" shape-rendering="crispEdges"/>
<text x="1092.2" y="826" font-family="Liberation Sans, sans-serif" font-size="10.0" fill="#000" stroke="#000" stroke-width="0.18" textLength="49.64" lengthAdjust="spacingAndGlyphs">9 Feb 00:00</text>
<rect x="1157" y="814" width="1" height="3" fill="#000" shape-rendering="crispEdges"/>
<text x="1156.2" y="826" font-family="Liberation Sans, sans-serif" font-size="10.0" fill="#000" stroke="#000" stroke-width="0.18" textLength="49.64" lengthAdjust="spacingAndGlyphs">9 Feb 16:00</text>
<rect x="1221" y="814" width="1" height="3" fill="#000" shape-rendering="crispEdges"/>
<text x="1220.2" y="826" font-family="Liberation Sans, sans-serif" font-size="10.0" fill="#000" stroke="#000" stroke-width="0.18" textLength="54.81" lengthAdjust="spacingAndGlyphs">10 Feb 08:00</text>
<g id="toolbar">
<defs>
<linearGradient id="gGold" x1="0" y1="0" x2="1" y2="1"><stop offset="0" stop-color="#fbe77a"/><stop offset="0.55" stop-color="#e7b82c"/><stop offset="1" stop-color="#b9821a"/></linearGradient>
<linearGradient id="gBlue" x1="0" y1="0" x2="0" y2="1"><stop offset="0" stop-color="#5fb4ff"/><stop offset="1" stop-color="#1673e6"/></linearGradient>
<linearGradient id="gCloud" x1="0" y1="0" x2="0" y2="1"><stop offset="0" stop-color="#ffffff"/><stop offset="1" stop-color="#c9d8ee"/></linearGradient>
<linearGradient id="gLens" x1="0" y1="0" x2="0" y2="1"><stop offset="0" stop-color="#eaf5ff"/><stop offset="1" stop-color="#b5d8f5"/></linearGradient>
<linearGradient id="gClock" x1="0" y1="0" x2="0" y2="1"><stop offset="0" stop-color="#4aa2f2"/><stop offset="1" stop-color="#124ab0"/></linearGradient>
<linearGradient id="gHat" x1="0" y1="0" x2="0" y2="1"><stop offset="0" stop-color="#8fd0f2"/><stop offset="1" stop-color="#3d8fcf"/></linearGradient>
<linearGradient id="gFace" x1="0" y1="0" x2="1" y2="1"><stop offset="0" stop-color="#fff3a0"/><stop offset="1" stop-color="#e3b020"/></linearGradient>
<pattern id="dith" width="2" height="2" patternUnits="userSpaceOnUse"><rect width="2" height="2" fill="#f0f0f0"/><rect width="1" height="1" fill="#fff"/><rect x="1" y="1" width="1" height="1" fill="#fff"/></pattern>
</defs>
<rect x="-1" y="14" width="4.2" height="3.8" fill="#1fc01f" stroke="#0d8a0d" stroke-width="0.6"/>
<rect x="0" y="7" width="1.2" height="14" fill="#c8c8c8"/>
<text x="6.5" y="15.3" font-family="Liberation Sans, Noto Sans CJK SC, sans-serif" font-size="12.1" fill="#000" stroke="#000" stroke-width="0.34" textLength="36.3" lengthAdjust="spacingAndGlyphs">新订单</text>
<text x="158.9" y="15.6" font-family="Liberation Sans, Noto Sans CJK SC, sans-serif" font-size="11.9" fill="#000" stroke="#000" stroke-width="0.33" textLength="47.6" lengthAdjust="spacingAndGlyphs">自动交易</text>
<path d="M69.8,11 L70.9,13.9 L63,19.9 L62.2,17 Z" fill="#e9dda6" stroke="#9a6a18" stroke-width="0.8" stroke-linejoin="round"/>
<path d="M55.2,13.8 L62.3,17.2 L63,19.9 L55.5,15.6 Z" fill="#d99a1c" stroke="#9a6210" stroke-width="0.8" stroke-linejoin="round"/>
<path d="M60.4,5.2 L69.8,11 L62.2,17.2 L55.2,13.8 Q58.8,10 60.4,5.2 Z" fill="url(#gGold)" stroke="#a66a12" stroke-width="0.9" stroke-linejoin="round"/>
<path d="M56.6,13.6 L62.2,16.2 L68.4,11.2" fill="none" stroke="#fdf0a0" stroke-width="0.7" opacity="0.8"/>
<path d="M84.9,5.3 L87,4.1 L95.4,4.2 L96.2,6.4 L96.2,13.6 L84.9,13.6 Z" fill="#1596f8"/>
<path d="M84.9,5.3 L88.6,6.6 L88.6,13.6 L84.9,13.6 Z" fill="#0a86ee"/>
<path d="M84.9,5.3 L87,4.1 L95.4,4.2 L96.2,6.4 L88.6,6.6 Z" fill="#0a78e0"/>
<path d="M85.4,5.4 L88.6,6.8 L88.6,13.4" fill="none" stroke="#d8efff" stroke-width="0.8"/>
<rect x="90.2" y="8.4" width="4.9" height="1.3" fill="#e6f4ff"/>
<path d="M85.6,19.5 C82.4,19.5 82.2,15.6 85.4,15.2 C85.6,13 88.6,12.4 90,14 C91.2,11.4 95.4,11.8 95.8,14.6 C99.4,14.2 100,19.5 96.6,19.5 Z" fill="url(#gCloud)" stroke="#4a68a8" stroke-width="0.9"/>
<path d="M84.6,19.6 H97.4" stroke="#3a5898" stroke-width="0.9"/>
<defs><radialGradient id="gSig" cx="0.5" cy="0.5" r="0.5"><stop offset="0" stop-color="#ffffff" stop-opacity="0.9"/><stop offset="1" stop-color="#d5e3d5" stop-opacity="0.9"/></radialGradient><linearGradient id="gSweep" x1="0" y1="0" x2="1" y2="1"><stop offset="0" stop-color="#bfe0bf" stop-opacity="0.5"/><stop offset="1" stop-color="#3c9a3c" stop-opacity="0.95"/></linearGradient></defs>
<circle cx="119" cy="11.8" r="7.9" fill="url(#gSig)"/>
<path d="M119,11.8 L119,19.7 A7.9,7.9 0 0 0 126.9,11.8 Z" fill="url(#gSweep)"/>
<g fill="none" stroke-width="1.1"><path d="M119,19.4 A7.6,7.6 0 0 1 119,4.2" stroke="#5c84da" opacity="0.75" stroke-dasharray="2.2 0.7"/><path d="M119,16.9 A5.1,5.1 0 0 1 119,6.7" stroke="#5c84da" opacity="0.7" stroke-dasharray="2 0.6"/><path d="M119,4.2 A7.6,7.6 0 0 1 126.6,11.8" stroke="#7fae8c" opacity="0.7"/><path d="M119,6.7 A5.1,5.1 0 0 1 124.1,11.8" stroke="#7fae8c" opacity="0.7"/><path d="M126.6,11.8 A7.6,7.6 0 0 1 119,19.4" stroke="#3c7c6c" opacity="0.6"/></g>
<circle cx="119" cy="11.8" r="2.1" fill="#2a5ad0"/><circle cx="118.5" cy="11.2" r="0.8" fill="#7fa4ee"/>
<rect x="118.9" y="12.2" width="1.2" height="7.6" fill="#1ea41e"/>
<path d="M138.2,10.6 L154,9.8 L147.6,19.4 Q146,20.2 144.6,19 Z" fill="url(#gFace)" stroke="#c08a14" stroke-width="0.8" stroke-linejoin="round"/>
<path d="M138,9.4 C137.6,7.4 140.4,6.8 142,6.6 C142.2,3.4 149.2,3.2 149.6,6.4 C151.4,5.8 154.4,6.2 154,8 C153.2,10.6 147.4,11.6 143.6,11.4 C140.8,11.2 138.4,10.6 138,9.4 Z" fill="url(#gHat)" stroke="#2f82bc" stroke-width="0.7"/>
<path d="M142,6.8 C143.6,8 148,7.8 149.6,6.6" fill="none" stroke="#2f82bc" stroke-width="0.5" opacity="0.7"/>
<circle cx="150.6" cy="15.6" r="4.4" fill="#d82808"/><circle cx="150.6" cy="15.6" r="4.1" fill="none" stroke="#b01c06" stroke-width="0.6"/><path d="M147.6,13.6 A3.8,3.8 0 0 1 153.6,13.6" fill="none" stroke="#f06a4a" stroke-width="0.8" opacity="0.7"/><rect x="149.1" y="14.2" width="3" height="2.8" fill="#fff"/>
<rect x="214" y="0" width="1" height="24" fill="#a0a0a0" shape-rendering="crispEdges"/><rect x="215" y="0" width="1" height="24" fill="#ffffff" shape-rendering="crispEdges"/>
<rect x="218" y="2" width="3" height="1" fill="#a8a8a8" shape-rendering="crispEdges"/>
<rect x="218" y="4" width="3" height="1" fill="#a8a8a8" shape-rendering="crispEdges"/>
<rect x="218" y="6" width="3" height="1" fill="#a8a8a8" shape-rendering="crispEdges"/>
<rect x="218" y="8" width="3" height="1" fill="#a8a8a8" shape-rendering="crispEdges"/>
<rect x="218" y="10" width="3" height="1" fill="#a8a8a8" shape-rendering="crispEdges"/>
<rect x="218" y="12" width="3" height="1" fill="#a8a8a8" shape-rendering="crispEdges"/>
<rect x="218" y="14" width="3" height="1" fill="#a8a8a8" shape-rendering="crispEdges"/>
<rect x="218" y="16" width="3" height="1" fill="#a8a8a8" shape-rendering="crispEdges"/>
<rect x="218" y="18" width="3" height="1" fill="#a8a8a8" shape-rendering="crispEdges"/>
<rect x="218" y="20" width="3" height="1" fill="#a8a8a8" shape-rendering="crispEdges"/>
<rect x="309" y="1" width="1" height="21" fill="#a0a0a0" shape-rendering="crispEdges"/><rect x="310" y="1" width="1" height="21" fill="#ffffff" shape-rendering="crispEdges"/>
<rect x="399" y="1" width="1" height="21" fill="#a0a0a0" shape-rendering="crispEdges"/><rect x="400" y="1" width="1" height="21" fill="#ffffff" shape-rendering="crispEdges"/>
<rect x="461" y="1" width="1" height="21" fill="#a0a0a0" shape-rendering="crispEdges"/><rect x="462" y="1" width="1" height="21" fill="#ffffff" shape-rendering="crispEdges"/>
<rect x="582" y="0" width="1" height="24" fill="#a0a0a0" shape-rendering="crispEdges"/><rect x="583" y="0" width="1" height="24" fill="#ffffff" shape-rendering="crispEdges"/>
<rect x="586" y="2" width="3" height="1" fill="#a8a8a8" shape-rendering="crispEdges"/>
<rect x="586" y="4" width="3" height="1" fill="#a8a8a8" shape-rendering="crispEdges"/>
<rect x="586" y="6" width="3" height="1" fill="#a8a8a8" shape-rendering="crispEdges"/>
<rect x="586" y="8" width="3" height="1" fill="#a8a8a8" shape-rendering="crispEdges"/>
<rect x="586" y="10" width="3" height="1" fill="#a8a8a8" shape-rendering="crispEdges"/>
<rect x="586" y="12" width="3" height="1" fill="#a8a8a8" shape-rendering="crispEdges"/>
<rect x="586" y="14" width="3" height="1" fill="#a8a8a8" shape-rendering="crispEdges"/>
<rect x="586" y="16" width="3" height="1" fill="#a8a8a8" shape-rendering="crispEdges"/>
<rect x="586" y="18" width="3" height="1" fill="#a8a8a8" shape-rendering="crispEdges"/>
<rect x="586" y="20" width="3" height="1" fill="#a8a8a8" shape-rendering="crispEdges"/>
<rect x="649" y="1" width="1" height="21" fill="#a0a0a0" shape-rendering="crispEdges"/><rect x="650" y="1" width="1" height="21" fill="#ffffff" shape-rendering="crispEdges"/>
<rect x="888" y="0" width="1" height="24" fill="#a0a0a0" shape-rendering="crispEdges"/><rect x="889" y="0" width="1" height="24" fill="#ffffff" shape-rendering="crispEdges"/>
<rect x="892" y="2" width="3" height="1" fill="#a8a8a8" shape-rendering="crispEdges"/>
<rect x="892" y="4" width="3" height="1" fill="#a8a8a8" shape-rendering="crispEdges"/>
<rect x="892" y="6" width="3" height="1" fill="#a8a8a8" shape-rendering="crispEdges"/>
<rect x="892" y="8" width="3" height="1" fill="#a8a8a8" shape-rendering="crispEdges"/>
<rect x="892" y="10" width="3" height="1" fill="#a8a8a8" shape-rendering="crispEdges"/>
<rect x="892" y="12" width="3" height="1" fill="#a8a8a8" shape-rendering="crispEdges"/>
<rect x="892" y="14" width="3" height="1" fill="#a8a8a8" shape-rendering="crispEdges"/>
<rect x="892" y="16" width="3" height="1" fill="#a8a8a8" shape-rendering="crispEdges"/>
<rect x="892" y="18" width="3" height="1" fill="#a8a8a8" shape-rendering="crispEdges"/>
<rect x="892" y="20" width="3" height="1" fill="#a8a8a8" shape-rendering="crispEdges"/>
<rect x="1149" y="0" width="1" height="24" fill="#a0a0a0" shape-rendering="crispEdges"/><rect x="1150" y="0" width="1" height="24" fill="#ffffff" shape-rendering="crispEdges"/>
<rect x="252" y="0" width="25" height="22" fill="url(#dith)" shape-rendering="crispEdges"/>
<rect x="252" y="0" width="25" height="1" fill="#a0a0a0" shape-rendering="crispEdges"/><rect x="252" y="0" width="1" height="22" fill="#a0a0a0" shape-rendering="crispEdges"/>
<rect x="276" y="1" width="1" height="21" fill="#fff" shape-rendering="crispEdges"/><rect x="253" y="21" width="24" height="1" fill="#fff" shape-rendering="crispEdges"/>
<rect x="404" y="0" width="25" height="22" fill="url(#dith)" shape-rendering="crispEdges"/>
<rect x="404" y="0" width="25" height="1" fill="#a0a0a0" shape-rendering="crispEdges"/><rect x="404" y="0" width="1" height="22" fill="#a0a0a0" shape-rendering="crispEdges"/>
<rect x="428" y="1" width="1" height="21" fill="#fff" shape-rendering="crispEdges"/><rect x="405" y="21" width="24" height="1" fill="#fff" shape-rendering="crispEdges"/>
<rect x="432" y="0" width="25" height="22" fill="url(#dith)" shape-rendering="crispEdges"/>
<rect x="432" y="0" width="25" height="1" fill="#a0a0a0" shape-rendering="crispEdges"/><rect x="432" y="0" width="1" height="22" fill="#a0a0a0" shape-rendering="crispEdges"/>
<rect x="456" y="1" width="1" height="21" fill="#fff" shape-rendering="crispEdges"/><rect x="433" y="21" width="24" height="1" fill="#fff" shape-rendering="crispEdges"/>
<rect x="592" y="0" width="25" height="22" fill="url(#dith)" shape-rendering="crispEdges"/>
<rect x="592" y="0" width="25" height="1" fill="#a0a0a0" shape-rendering="crispEdges"/><rect x="592" y="0" width="1" height="22" fill="#a0a0a0" shape-rendering="crispEdges"/>
<rect x="616" y="1" width="1" height="21" fill="#fff" shape-rendering="crispEdges"/><rect x="593" y="21" width="24" height="1" fill="#fff" shape-rendering="crispEdges"/>
<rect x="1038" y="0" width="25" height="22" fill="url(#dith)" shape-rendering="crispEdges"/>
<rect x="1038" y="0" width="25" height="1" fill="#a0a0a0" shape-rendering="crispEdges"/><rect x="1038" y="0" width="1" height="22" fill="#a0a0a0" shape-rendering="crispEdges"/>
<rect x="1062" y="1" width="1" height="21" fill="#fff" shape-rendering="crispEdges"/><rect x="1039" y="21" width="24" height="1" fill="#fff" shape-rendering="crispEdges"/>
<g stroke="#505050" stroke-width="1" fill="#505050"><path d="M232.5,7.4 V20 M230,17.5 H242.4" fill="none"/><path d="M232.5,5.6 L230.9,8 L234.1,8 Z" stroke="none"/><path d="M244.2,17.5 L241.8,15.9 L241.8,19.1 Z" stroke="none"/></g>
<path d="M238.5,7.2 V15.7 M238.5,8.6 H241 M236.2,14.4 H238.5" fill="none" stroke="#1c8c1c" stroke-width="1.15"/>
<g stroke="#505050" stroke-width="1" fill="#505050"><path d="M260.5,7.4 V20 M258,17.5 H270.4" fill="none"/><path d="M260.5,5.6 L258.9,8 L262.1,8 Z" stroke="none"/><path d="M272.2,17.5 L269.8,15.9 L269.8,19.1 Z" stroke="none"/></g>
<rect x="266" y="4.2" width="1" height="11.6" fill="#1a7a1a"/><rect x="264.3" y="6.8" width="4.6" height="7" fill="#22d022" stroke="#0f840f" stroke-width="0.9"/><rect x="265.6" y="7.8" width="2" height="5" fill="#8cff8c" opacity="0.7"/>
<g stroke="#505050" stroke-width="1" fill="#505050"><path d="M288.5,7.4 V20 M286,17.5 H298.4" fill="none"/><path d="M288.5,5.6 L286.9,8 L290.1,8 Z" stroke="none"/><path d="M300.2,17.5 L297.8,15.9 L297.8,19.1 Z" stroke="none"/></g>
<path d="M287.3,15 C289.5,13.5 290.5,9.2 293,9 C295.5,8.8 296.5,12 299,13" fill="none" stroke="#2e9a2e" stroke-width="1.1"/>
<path d="M327.7,14 L332.4,18.4" stroke="#9a7a10" stroke-width="3.2" stroke-linecap="round"/><path d="M327.9,14.2 L332.2,18.2" stroke="#e8c030" stroke-width="1.8" stroke-linecap="round"/>
<circle cx="323.5" cy="9.9" r="5.2" fill="url(#gLens)" stroke="#3f8fd8" stroke-width="1.3"/>
<rect x="320.5" y="9.1" width="6" height="1.7" fill="#2f7fd0"/>
<rect x="322.65" y="6.9" width="1.7" height="6" fill="#2f7fd0"/>
<path d="M356.0,14 L360.7,18.4" stroke="#9a7a10" stroke-width="3.2" stroke-linecap="round"/><path d="M356.2,14.2 L360.5,18.2" stroke="#e8c030" stroke-width="1.8" stroke-linecap="round"/>
<circle cx="351.8" cy="9.9" r="5.2" fill="url(#gLens)" stroke="#3f8fd8" stroke-width="1.3"/>
<rect x="348.8" y="9.1" width="6" height="1.7" fill="#2f7fd0"/>
<rect x="374.3" y="4.2" width="7.6" height="7.6" fill="#3f9a2c"/><rect x="375.90000000000003" y="7.0" width="4.6" height="3.4" fill="#fff" opacity="0.92"/><rect x="376.90000000000003" y="8.8" width="2.6" height="1.6" fill="#3f9a2c"/><rect x="375.1" y="5.1000000000000005" width="1" height="1" fill="#fff" opacity="0.8"/>
<rect x="382.3" y="4.2" width="7.6" height="7.6" fill="#1f5ed0"/><rect x="383.90000000000003" y="7.0" width="4.6" height="3.4" fill="#fff" opacity="0.92"/><rect x="384.90000000000003" y="8.8" width="2.6" height="1.6" fill="#1f5ed0"/><rect x="383.1" y="5.1000000000000005" width="1" height="1" fill="#fff" opacity="0.8"/>
<rect x="374.3" y="12.2" width="7.6" height="7.6" fill="#1f5ed0"/><rect x="375.90000000000003" y="15.0" width="4.6" height="3.4" fill="#fff" opacity="0.92"/><rect x="376.90000000000003" y="16.799999999999997" width="2.6" height="1.6" fill="#1f5ed0"/><rect x="375.1" y="13.1" width="1" height="1" fill="#fff" opacity="0.8"/>
<rect x="382.3" y="12.2" width="7.6" height="7.6" fill="#3f9a2c"/><rect x="383.90000000000003" y="15.0" width="4.6" height="3.4" fill="#fff" opacity="0.92"/><rect x="384.90000000000003" y="16.799999999999997" width="2.6" height="1.6" fill="#3f9a2c"/><rect x="383.1" y="13.1" width="1" height="1" fill="#fff" opacity="0.8"/>
<g stroke="#505050" stroke-width="1" fill="#505050"><path d="M412.5,7.4 V20 M410,17.5 H422.4" fill="none"/><path d="M412.5,5.6 L410.9,8 L414.1,8 Z" stroke="none"/><path d="M424.2,17.5 L421.8,15.9 L421.8,19.1 Z" stroke="none"/></g>
<path d="M417.4,7.8 L421.2,11.4 L417.4,15 Z" fill="#e6ffe6" stroke="#2ca02c" stroke-width="1.1" stroke-linejoin="round"/>
<g stroke="#505050" stroke-width="1" fill="#505050"><path d="M440.5,7.4 V20 M438,17.5 H450.4" fill="none"/><path d="M440.5,5.6 L438.9,8 L442.1,8 Z" stroke="none"/><path d="M452.2,17.5 L449.8,15.9 L449.8,19.1 Z" stroke="none"/></g>
<rect x="445.8" y="6" width="1.2" height="9.8" fill="#2060b0"/><path d="M447.4,11.7 L450.2,9.4 L450.2,14 Z" fill="#d04010"/><rect x="449.5" y="11.2" width="2.4" height="1" fill="#d04010"/>
<path d="M471.6,4.8 H479.8 L483.2,8.2 V17.6 H471.6 Z" fill="#fbfbfb" stroke="#787878" stroke-width="0.9" stroke-linejoin="round"/><path d="M479.8,4.8 V8.2 H483.2" fill="#dcdcdc" stroke="#787878" stroke-width="0.8" stroke-linejoin="round"/><path d="M475.8,7.4 Q474.6,7.4 474.6,8.6 V10 Q474.6,10.8 473.8,10.9 Q474.6,11 474.6,11.8 V13.6 Q474.6,14.6 475.8,14.6" stroke="#7a5a3a" stroke-width="0.8" fill="none"/>
<defs><linearGradient id="gPlus" x1="0" y1="0" x2="1" y2="1"><stop offset="0" stop-color="#58e858"/><stop offset="1" stop-color="#12b012"/></linearGradient></defs>
<path d="M479.4,10.3 H483 V14.1 H486.8 V17.7 H483 V21.6 H479.4 V17.7 H475.6 V14.1 H479.4 Z" fill="url(#gPlus)" stroke="#0c860c" stroke-width="0.9" stroke-linejoin="round"/>
<path d="M493,11 L498.2,11 L495.6,13.9 Z" fill="#000"/>
<path d="M531.8,11 L537.0,11 L534.4,13.9 Z" fill="#000"/>
<path d="M570.8,11 L576.0,11 L573.4,13.9 Z" fill="#000"/>
<path d="M876.8,11 L882.0,11 L879.4,13.9 Z" fill="#000"/>
<circle cx="516.9" cy="12.1" r="8.1" fill="url(#gClock)"/><circle cx="516.9" cy="12.1" r="7.7" fill="none" stroke="#1450b0" stroke-width="0.7"/><circle cx="516.9" cy="12.1" r="5.3" fill="#f2f6fc" stroke="#2a66c0" stroke-width="0.5"/><path d="M516.7,8 V12.2 H519.8" fill="none" stroke="#303030" stroke-width="1.1"/><g fill="#8a98b4"><rect x="516.4" y="7.2" width="0.8" height="0.9"/><rect x="516.4" y="16.0" width="0.8" height="0.9"/><rect x="512.2" y="11.7" width="0.9" height="0.8"/><rect x="520.8" y="11.7" width="0.9" height="0.8"/><rect x="513.6" y="8.6" width="0.7" height="0.7"/><rect x="519.6" y="8.6" width="0.7" height="0.7"/><rect x="513.6" y="14.9" width="0.7" height="0.7"/><rect x="519.6" y="14.9" width="0.7" height="0.7"/></g><rect x="515.6" y="14.4" width="2.4" height="0.7" fill="#8ab4f0"/>
<defs><linearGradient id="gBar" x1="0" y1="0" x2="0" y2="1"><stop offset="0" stop-color="#9cc4f4"/><stop offset="1" stop-color="#3a78d4"/></linearGradient></defs>
<rect x="548.7" y="5.4" width="15" height="13.4" fill="#fff" stroke="#2f62bc" stroke-width="1"/><rect x="548.2" y="4.9" width="16" height="2.6" fill="url(#gBar)" stroke="#2f62bc" stroke-width="0.6"/><rect x="549.2" y="12.7" width="14" height="0.9" fill="#5f8cd8"/>
<path d="M550.4,11.2 H552 L553.2,10.2 H555 L556,9.4 H557.6 L558.6,10.2 H560.2 L561.2,9.2 H562.4" fill="none" stroke="#a82414" stroke-width="1.3"/><path d="M550.6,16.8 H552 L553.4,15.8 L554.8,16.8 H556.2 L558.4,14.6 L560,16 L561,16.6 H562.4" fill="none" stroke="#1f8c2c" stroke-width="1.2"/>
<path d="M600,5 L600,16.4 L602.7,13.9 L605.3,19.4 L607.3,18.4 L604.8,13.1 L608.5,12.8 Z" fill="#484848"/>
<g fill="#555" shape-rendering="crispEdges"><rect x="625" y="12" width="6" height="1"/><rect x="634" y="12" width="6" height="1"/><rect x="632" y="5" width="1" height="6"/><rect x="632" y="14" width="1" height="6"/><rect x="632" y="12" width="1" height="1" fill="#999"/></g>
<g fill="#555" shape-rendering="crispEdges"><rect x="666" y="6" width="1" height="13"/><rect x="689" y="12" width="12" height="1"/></g>
<path d="M717,19 L729.2,7" stroke="#555" stroke-width="1.1"/>
<g stroke="#4a4a4a" fill="none"><path d="M742.8,13.5 L750.8,6.1 M747.9,18.7 L757.3,10.5" stroke-width="0.9" stroke-dasharray="1.6 0.5"/><path d="M745,18.4 L745.8,11.8 L748.4,15.6 L749.4,9.8 L752,12.6 L754.6,4.2 L755.6,11" stroke-width="1.25" stroke-linejoin="round" stroke-linecap="round"/></g>
<text x="754.0" y="20.9" font-family="Liberation Sans, sans-serif" font-size="6.8" font-weight="bold" fill="#3c3c3c">E</text>
<line x1="772" y1="5.5" x2="785" y2="5.5" stroke="#555" stroke-width="1" stroke-dasharray="1 1" shape-rendering="crispEdges"/>
<line x1="772" y1="8.5" x2="785" y2="8.5" stroke="#555" stroke-width="1" stroke-dasharray="1 1" shape-rendering="crispEdges"/>
<line x1="772" y1="12.5" x2="785" y2="12.5" stroke="#555" stroke-width="1" stroke-dasharray="1 1" shape-rendering="crispEdges"/>
<line x1="772" y1="16.5" x2="781" y2="16.5" stroke="#555" stroke-width="1" stroke-dasharray="1 1" shape-rendering="crispEdges"/>
<text x="782.0" y="20.9" font-family="Liberation Sans, sans-serif" font-size="6.8" font-weight="bold" fill="#3c3c3c">F</text>
<text x="802.6" y="16.6" font-family="Liberation Sans, sans-serif" font-size="11.6" fill="#555" stroke="#555" stroke-width="0.35">A</text>
<rect x="829" y="5.5" width="11" height="13.5" fill="none" stroke="#555" stroke-width="1" stroke-dasharray="1 1" shape-rendering="crispEdges"/>
<text x="830.7" y="16.6" font-family="Liberation Sans, sans-serif" font-size="10.6" fill="#555" stroke="#555" stroke-width="0.35">T</text>
<path d="M859,5.2 L862.2,8.4 L859,11.6 L855.8,8.4 Z" fill="#484848"/><path d="M866.6,12.6 L869.9,15.8 L866.6,19 L863.3,15.8 Z" fill="#484848"/><path d="M857.6,12.4 L859.8,14.8 L864.6,9.4" fill="none" stroke="#484848" stroke-width="1.3"/>
<text x="903.5" y="15.6" font-family="Liberation Sans, sans-serif" font-size="10" fill="#505050" textLength="12.6" lengthAdjust="spacingAndGlyphs">M1</text>
<text x="931.8" y="15.6" font-family="Liberation Sans, sans-serif" font-size="10" fill="#505050" textLength="12.4" lengthAdjust="spacingAndGlyphs">M5</text>
<text x="957.5" y="15.6" font-family="Liberation Sans, sans-serif" font-size="10" fill="#505050" textLength="17.6" lengthAdjust="spacingAndGlyphs">M15</text>
<text x="985.6" y="15.6" font-family="Liberation Sans, sans-serif" font-size="10" fill="#505050" textLength="17.6" lengthAdjust="spacingAndGlyphs">M30</text>
<text x="1016.5" y="15.6" font-family="Liberation Sans, sans-serif" font-size="10" fill="#505050" textLength="11.6" lengthAdjust="spacingAndGlyphs">H1</text>
<text x="1043.3" y="15.6" font-family="Liberation Sans, sans-serif" font-size="10" fill="#505050" textLength="12.1" lengthAdjust="spacingAndGlyphs">H4</text>
<text x="1072.9" y="15.6" font-family="Liberation Sans, sans-serif" font-size="10" fill="#505050" textLength="11.3" lengthAdjust="spacingAndGlyphs">D1</text>
<text x="1100.2" y="15.6" font-family="Liberation Sans, sans-serif" font-size="10" fill="#505050" textLength="13.8" lengthAdjust="spacingAndGlyphs">W1</text>
<text x="1126.9" y="15.6" font-family="Liberation Sans, sans-serif" font-size="10" fill="#505050" textLength="14.4" lengthAdjust="spacingAndGlyphs">MN</text>
<path d="M1616.4,12.4 L1612,17" stroke="#1f5fd0" stroke-width="2.6" stroke-linecap="round"/><path d="M1616.4,12.4 L1612,17" stroke="#7fa6ea" stroke-width="2.6" stroke-dasharray="0.6 0.9" opacity="0.6"/>
<circle cx="1619.6" cy="9.5" r="3.9" fill="#f6f6ff" stroke="#2a63d4" stroke-width="1.3"/>
<path d="M1636.4,14.2 C1636.4,11.2 1639,9.4 1642.2,9.4 C1645.4,9.4 1648,11.2 1648,14.2 C1648,17 1645.4,18.4 1642.2,18.4 C1641.4,18.4 1640.8,18.3 1640.2,18.2 L1638.6,20.4 L1638.4,17.6 C1637.2,16.8 1636.4,15.6 1636.4,14.2 Z" fill="#e2e4f2" stroke="#a0a0a0" stroke-width="0.9"/>
<defs><linearGradient id="gBadge" x1="0" y1="0" x2="0" y2="1"><stop offset="0" stop-color="#e9603f"/><stop offset="1" stop-color="#d41c0c"/></linearGradient></defs>
<circle cx="1650.5" cy="9.5" r="8.2" fill="url(#gBadge)"/>
<text x="1649.8" y="14.1" font-family="Liberation Sans, sans-serif" font-size="12.8" fill="#fff" text-anchor="middle" stroke="#fff" stroke-width="0.3">1</text>
<rect x="1647.2" y="13.1" width="5.2" height="1" fill="#fff"/>
</g>
</svg>
</body></html>
